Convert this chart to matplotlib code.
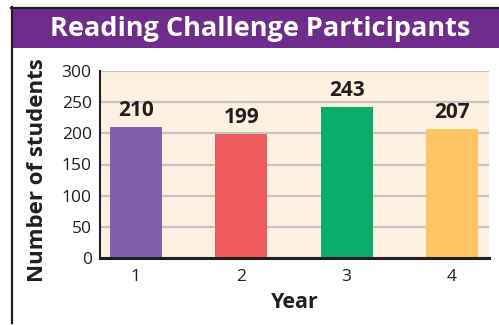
import matplotlib
matplotlib.use("Agg")
import matplotlib.pyplot as plt
from matplotlib.patches import Rectangle
from matplotlib.lines import Line2D

years = ["1", "2", "3", "4"]
students = [210, 199, 243, 207]
bar_colors = ["#8060aa", "#ef5a5c", "#0aad6a", "#fec462"]
y_ticks = [0, 50, 100, 150, 200, 250, 300]
title = "Reading Challenge Participants"

W, H = 499, 325
plt.rcParams["font.family"] = ["Open Sans", "DejaVu Sans"]

fig = plt.figure(figsize=(W / 100, H / 100), dpi=100)
fig.patch.set_facecolor("white")

def fx(px):
    return px / W

def fy(py):
    return 1 - py / H

# header band and frame
fig.add_artist(Rectangle((fx(12), fy(48)), 1 - fx(12), fy(8) - fy(48),
                         transform=fig.transFigure, facecolor="#6e2c8d",
                         edgecolor="none", zorder=1))
fig.add_artist(Line2D([fx(11), 1], [fy(7.5), fy(7.5)], transform=fig.transFigure,
                      color="#231f20", lw=1.6, zorder=2))
fig.add_artist(Line2D([fx(12), fx(12)], [fy(7), fy(323)], transform=fig.transFigure,
                      color="#231f20", lw=1.6, zorder=2))
fig.text(fx(260), fy(35.5), title, ha="center", va="baseline", color="white",
         fontsize=19.5, fontweight="bold")

ax = fig.add_axes([fx(100), fy(258), fx(489) - fx(100), fy(71) - fy(258)])
ax.set_facecolor("#fef0e0")

x = list(range(1, len(years) + 1))
ax.bar(x, students, width=0.49, color=bar_colors, zorder=3)
for xi, v in zip(x, students):
    ax.text(xi, v + 9, str(v), ha="center", va="bottom", fontsize=15,
            fontweight="bold", color="#231f20", zorder=4)

ax.set_xlim(0.66, 4.35)
ax.set_ylim(0, 300)
ax.set_xticks(x)
ax.set_xticklabels(years)
ax.set_yticks(y_ticks)
ax.tick_params(axis="both", length=0, labelsize=12.5, colors="#231f20")
ax.tick_params(axis="y", pad=6)
ax.tick_params(axis="x", pad=8)
ax.yaxis.grid(True, color="#c4c4c4", lw=1.6, zorder=1)
ax.set_axisbelow(True)

for side in ("top", "right"):
    ax.spines[side].set_visible(False)
ax.spines["left"].set_color("#231f20")
ax.spines["left"].set_linewidth(1.5)
ax.spines["bottom"].set_color("#231f20")
ax.spines["bottom"].set_linewidth(2.2)
ax.spines["bottom"].set_zorder(5)

fig.text(fx(38), fy(170), "Number of students", rotation=90, ha="center",
         va="center", fontsize=16, fontweight="bold", color="#231f20")
fig.text(fx(295), fy(308), "Year", ha="center", va="baseline",
         fontsize=15.5, fontweight="bold", color="#231f20")

fig.savefig("out.png", dpi=100, facecolor="white")
